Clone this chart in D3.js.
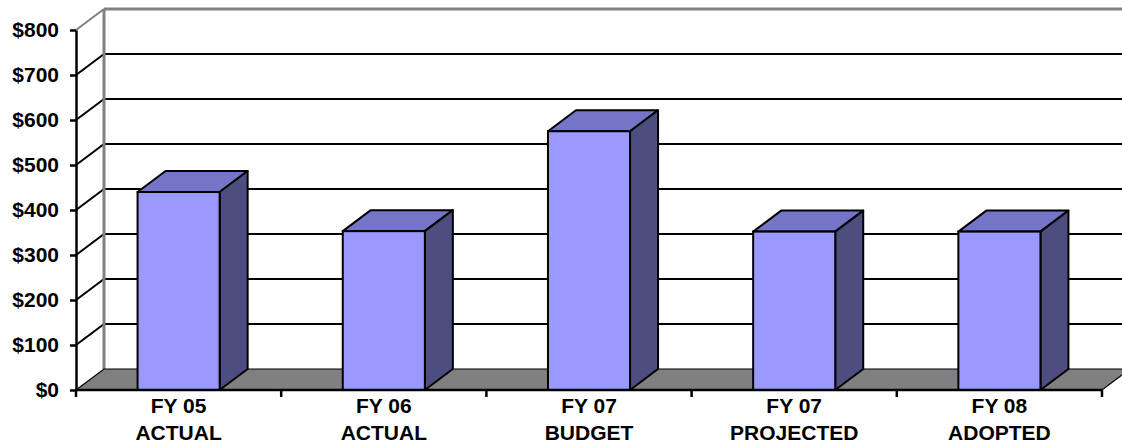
<!DOCTYPE html>
<html>
<head>
<meta charset="utf-8">
<script src="https://cdn.jsdelivr.net/npm/d3@7"></script>
<style>
  html, body { margin: 0; padding: 0; background: #fff; }
  svg { display: block; }
  text { font-family: "Liberation Sans", Arial, sans-serif; font-weight: bold; fill: #000; }
</style>
</head>
<body>
<svg id="chart" width="1122" height="444"></svg>
<script>
// Budget by fiscal year (thousands of dollars)
const categories = ["FY 05|ACTUAL", "FY 06|ACTUAL", "FY 07|BUDGET", "FY 07|PROJECTED", "FY 08|ADOPTED"];
const values = [440, 353, 575, 352, 352];
const tickValues = [0, 100, 200, 300, 400, 500, 600, 700, 800];

const svg = d3.select("#chart");
const W = 1122, H = 444;

// 3D offsets for depth (back wall is shifted right and up)
const dx = 28, dy = -21;
const left = 76, right = 1102;

const y = d3.scaleLinear().domain([0, 800]).range([390, 30]);
const x = d3.scaleBand().domain(categories).range([left, right])
  .paddingInner(0.6).paddingOuter(0.3);
const step = x.step();

const y0 = y(0);

// Back wall
svg.append("rect")
  .attr("x", left + dx).attr("y", y(800) + dy)
  .attr("width", W - left - dx).attr("height", y0 - y(800))
  .attr("fill", "#fff");

// Back wall gridlines
svg.append("g").selectAll("line")
  .data(tickValues.filter(d => d > 0 && d < 800))
  .join("line")
  .attr("x1", left + dx).attr("x2", W)
  .attr("y1", d => y(d) + dy).attr("y2", d => y(d) + dy)
  .attr("stroke", "#000").attr("stroke-width", 2);

// Side wall gridlines (diagonals from the front axis to the back wall)
svg.append("g").selectAll("line")
  .data(tickValues.filter(d => d > 0))
  .join("line")
  .attr("x1", left).attr("y1", d => y(d))
  .attr("x2", left + dx).attr("y2", d => y(d) + dy)
  .attr("stroke", d => d === 800 ? "#808080" : "#000")
  .attr("stroke-width", 2);

// Top edge and back-left edge of the walls
svg.append("line")
  .attr("x1", left + dx).attr("x2", W)
  .attr("y1", y(800) + dy).attr("y2", y(800) + dy)
  .attr("stroke", "#808080").attr("stroke-width", 3);
svg.append("line")
  .attr("x1", left + dx).attr("x2", left + dx)
  .attr("y1", y(800) + dy).attr("y2", y0 + dy)
  .attr("stroke", "#808080").attr("stroke-width", 3);

// Floor
svg.append("path")
  .attr("d", `M${left},${y0} L${right},${y0} L${right + dx},${y0 + dy} L${left + dx},${y0 + dy} Z`)
  .attr("fill", "#808080").attr("stroke", "#000").attr("stroke-width", 1.2);

// Bars
const data = categories.map((c, i) => ({ c, v: values[i] }));
const bars = svg.append("g").selectAll("g").data(data).join("g");

bars.append("path") // top face
  .attr("d", d => {
    const x0 = x(d.c), x1 = x0 + x.bandwidth(), yt = y(d.v);
    return `M${x0},${yt} L${x0 + dx},${yt + dy} L${x1 + dx},${yt + dy} L${x1},${yt} Z`;
  })
  .attr("fill", "#7575C8").attr("stroke", "#000").attr("stroke-width", 2)
  .attr("stroke-linejoin", "round");

bars.append("path") // side face
  .attr("d", d => {
    const x1 = x(d.c) + x.bandwidth(), yt = y(d.v);
    return `M${x1},${yt} L${x1 + dx},${yt + dy} L${x1 + dx},${y0 + dy} L${x1},${y0} Z`;
  })
  .attr("fill", "#4D4D80").attr("stroke", "#000").attr("stroke-width", 2)
  .attr("stroke-linejoin", "round");

bars.append("rect") // front face
  .attr("x", d => x(d.c)).attr("y", d => y(d.v))
  .attr("width", x.bandwidth()).attr("height", d => y0 - y(d.v))
  .attr("fill", "#9999FF").attr("stroke", "#000").attr("stroke-width", 2);

// Value axis
const yAxis = d3.axisLeft(y).tickValues(tickValues).tickSize(6).tickSizeOuter(0)
  .tickFormat(d => "$" + d);
const gy = svg.append("g").attr("transform", `translate(${left},0)`).call(yAxis);
gy.select(".domain").attr("stroke", "#000").attr("stroke-width", 2.5);
gy.selectAll(".tick line").attr("stroke", "#000").attr("stroke-width", 2.5);
gy.selectAll(".tick text").attr("x", -17).attr("font-size", 21)
  .attr("font-family", "Liberation Sans, Arial, sans-serif").attr("font-weight", "bold")
  .attr("fill", "#000");

// Category axis
svg.append("line")
  .attr("x1", left).attr("x2", right).attr("y1", y0).attr("y2", y0)
  .attr("stroke", "#000").attr("stroke-width", 2.5);
svg.append("g").selectAll("line")
  .data(d3.range(categories.length + 1))
  .join("line")
  .attr("x1", i => left + i * step).attr("x2", i => left + i * step)
  .attr("y1", y0).attr("y2", y0 + 7)
  .attr("stroke", "#000").attr("stroke-width", 2.5);

const labels = svg.append("g").selectAll("text").data(categories).join("text")
  .attr("text-anchor", "middle").attr("font-size", 21)
  .attr("transform", c => `translate(${x(c) + x.bandwidth() / 2},0)`);
labels.each(function (c) {
  const parts = c.split("|");
  const t = d3.select(this);
  t.append("tspan").attr("x", 0).attr("y", 413).text(parts[0]);
  t.append("tspan").attr("x", 0).attr("y", 440).text(parts[1]);
});
</script>
</body>
</html>
